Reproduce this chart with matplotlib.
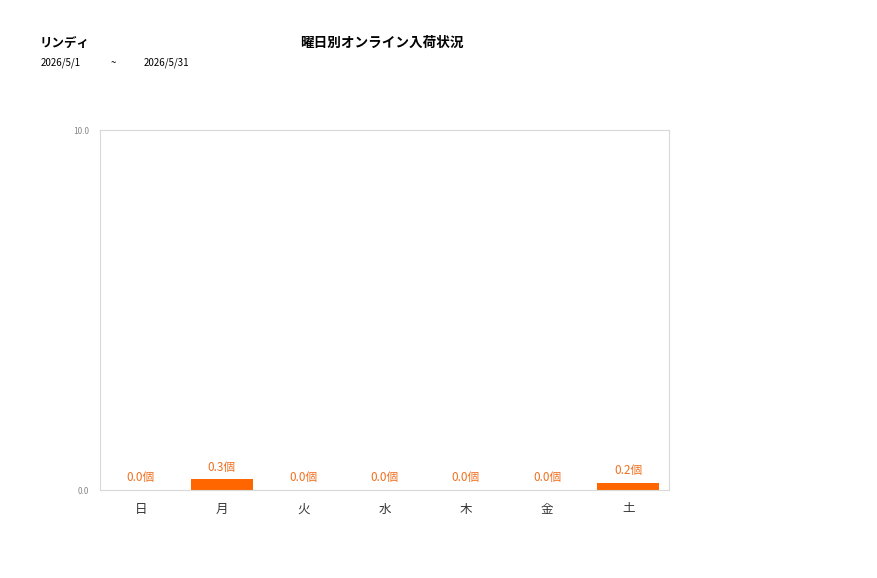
import matplotlib
matplotlib.use("Agg")
import matplotlib.pyplot as plt

plt.rcParams['font.family'] = ['Noto Sans CJK JP', 'DejaVu Sans']

days = ["日", "月", "火", "水", "木", "金", "土"]
values = [0.0, 0.3, 0.0, 0.0, 0.0, 0.0, 0.2]
y_ticks = [0.0, 10.0]
store = "リンディ"
title = "曜日別オンライン入荷状況"
date_from = "2026/5/1"
date_to = "2026/5/31"

W, H = 877, 578
fig = plt.figure(figsize=(W / 100, H / 100), dpi=100)
ax = fig.add_axes([100 / W, 1 - 490 / H, 569 / W, 360 / H])

bar_color = "#ff6600"
label_color = "#f07020"
x = list(range(len(days)))
ax.bar(x, values, width=0.76, color=bar_color)
for xi, v in zip(x, values):
    ax.annotate(f"{v:.1f}個", (xi, v), xytext=(0, 4), textcoords="offset points",
                ha="center", va="bottom", fontsize=8.5, color=label_color)

ax.set_xlim(-0.5, len(days) - 0.5)
ax.set_ylim(0, 10)
ax.set_yticks(y_ticks)
ax.set_yticklabels([f"{t:.1f}" for t in y_ticks], fontsize=6, color="#888888")
ax.set_xticks(x)
ax.set_xticklabels(days, fontsize=9, color="#333333")
ax.tick_params(axis="both", length=0)
ax.tick_params(axis="x", pad=9)
ax.tick_params(axis="y", pad=8)
for s in ax.spines.values():
    s.set_color("#d9d9d9")
    s.set_linewidth(0.8)

fig.text(40 / W, 1 - 43 / H, store, fontsize=9, fontweight="bold", va="center", ha="left")
fig.text(382 / W, 1 - 43 / H, title, fontsize=9.8, fontweight="bold", va="center", ha="center")
fig.text(41 / W, 1 - 63 / H, date_from, fontsize=7, va="center", ha="left")
fig.text(111 / W, 1 - 63 / H, "~", fontsize=7, va="center", ha="left")
fig.text(144 / W, 1 - 63 / H, date_to, fontsize=7, va="center", ha="left")

fig.savefig("out.png", dpi=100)
